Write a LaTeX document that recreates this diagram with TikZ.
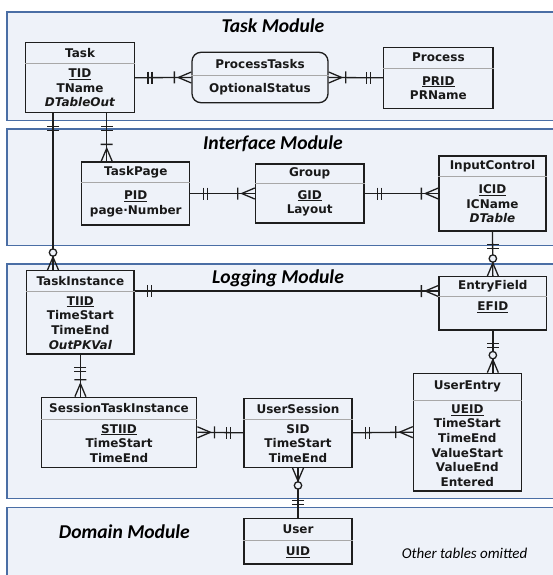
\documentclass[tikz,border=0pt]{standalone}
\usepackage{fontspec}
\setmainfont{DejaVu Sans}
\newfontfamily\ttlfont{Carlito}
\definecolor{modfill}{HTML}{EEF2F9}
\definecolor{modline}{HTML}{4A6EA5}
\definecolor{entline}{HTML}{1E1E1E}
\definecolor{sepgray}{HTML}{A8A8A8}
\pgfdeclarelayer{modlayer}
\pgfdeclarelayer{connlayer}
\pgfsetlayers{modlayer,connlayer,main}
\tikzset{
  module/.style={draw=modline, line width=1.4pt, fill=modfill},
  entity/.style={draw=entline, line width=1.3pt, fill=modfill, inner sep=0pt},
  sepline/.style={draw=sepgray, line width=0.9pt},
  hdr/.style={font=\fontsize{12}{14.6}\selectfont\bfseries, text=black!90, inner sep=0pt},
  attr/.style={font=\fontsize{12}{14.6}\selectfont\bfseries, text=black!90, align=center, inner sep=0pt},
  modtitle/.style={font=\ttlfont\fontsize{19.6}{22}\selectfont\bfseries\itshape, inner sep=0pt},
  note/.style={font=\ttlfont\fontsize{15}{18}\selectfont\itshape, inner sep=0pt},
  conn/.style={draw=entline, line width=1.3pt},
  oneone/.pic={\draw[conn] (13,-6)--(13,6) (17,-6)--(17,6);},
  onemany/.pic={\draw[conn] (0,-5.5)--(13,0)--(0,5.5) (17,-6)--(17,6);},
  zeromany/.pic={\draw[conn] (0,-5.5)--(13,0)--(0,5.5); \draw[conn,fill=modfill] (17.5,0) circle (3.7);},
}
% #1 extra style, #2 name, #3 x1, #4 y1, #5 x2, #6 y2, #7 sep, #8 header, #9 attrs
\newcommand\ent[9][]{%
  \node[entity,#1,minimum width={(#5-#3)*1pt},minimum height={(#6-#4)*1pt}] (#2) at ({(#3+#5)/2},{(#4+#6)/2}) {};
  \draw[sepline] (#2.west |- 0,#7) -- (#2.east |- 0,#7);
  \node[hdr] (#2-h) at ({(#3+#5)/2},{(#4+#7)/2}) {#8};
  \node[attr] (#2-a) at ({(#3+#5)/2},{(#7+#6)/2}) {#9};
}
\begin{document}
\begin{tikzpicture}[x=1pt,y=-1pt]
\useasboundingbox (0,0) rectangle (553,575);
\clip (0,0) rectangle (553,575);
% modules
\begin{pgfonlayer}{modlayer}
\path[module] (7,12) rectangle (570,120.5);
\path[module] (7,129) rectangle (570,245.7);
\path[module] (7,264) rectangle (570,498.3);
\path[module] (7,507.3) rectangle (570,600);
\end{pgfonlayer}
\node[modtitle] (tTask) at (273,26) {Task Module};
\node[modtitle] (tIface) at (273,143.3) {Interface Module};
\node[modtitle] (tLog) at (278,278) {Logging Module};
\node[modtitle] (tDom) at (124.4,531.7) {Domain Module};
\node[note] (omit) at (464.6,553.3) {Other tables omitted};
% anchor coordinates for off-centre connectors
\coordinate (xTI) at (53,0);
\coordinate (xTP) at (106.7,0);
\coordinate (yTE) at (0,291);
% entities
\ent{task}{25.7}{42.7}{134.4}{112.7}{63.3}{Task}{\underline{TID}\\TName\\\textit{DTableOut}}
\ent[rounded corners=9pt]{pt}{192}{52.3}{328}{102.7}{75}{ProcessTasks}{OptionalStatus}
\ent{process}{383.8}{47.3}{493}{108.3}{68}{Process}{\underline{PRID}\\PRName}
\ent{tp}{81.8}{162}{189.8}{225}{182.3}{TaskPage}{\underline{PID}\\page·Number}
\ent{grp}{255.4}{164}{364}{223}{183.3}{Group}{\underline{GID}\\Layout}
\ent{ic}{439}{156}{546}{231}{176.7}{InputControl}{\underline{ICID}\\ICName\\\textit{DTable}}
\ent{ti}{26.8}{270.7}{134}{354}{291.7}{TaskInstance}{\underline{TIID}\\TimeStart\\TimeEnd\\\textit{OutPKVal}}
\ent{ef}{439}{276.7}{546.7}{330}{296.7}{EntryField}{\underline{EFID}\\\mbox{}}
\ent{sti}{41.3}{397.3}{196.8}{467.3}{419.3}{SessionTaskInstance}{\underline{STIID}\\TimeStart\\TimeEnd}
\ent{us}{244}{398.3}{352}{467.3}{419.3}{UserSession}{SID\\TimeStart\\TimeEnd}
\ent{ue}{413.4}{373.3}{521.3}{491}{400}{UserEntry}{\underline{UEID}\\TimeStart\\TimeEnd\\ValueStart\\ValueEnd\\Entered}
\ent{user}{244}{518.3}{352}{564}{540}{User}{\underline{UID}}
% connectors
\begin{pgfonlayer}{connlayer}
\draw[conn] (task.east) -- (pt.west);
\pic[rotate=0] at (task.east) {oneone};
\pic[rotate=180] at (pt.west) {onemany};
\draw[conn] (pt.east) -- (process.west);
\pic[rotate=0] at (pt.east) {onemany};
\pic[rotate=180] at (process.west) {oneone};
\draw[conn] (task.south -| xTI) -- (ti.north -| xTI);
\pic[rotate=-90] at (task.south -| xTI) {oneone};
\pic[rotate=90] at (ti.north -| xTI) {zeromany};
\draw[conn] (task.south -| xTP) -- (tp.north -| xTP);
\pic[rotate=-90] at (task.south -| xTP) {oneone};
\pic[rotate=90] at (tp.north -| xTP) {onemany};
\draw[conn] (tp.east) -- (grp.west);
\pic[rotate=0] at (tp.east) {oneone};
\pic[rotate=180] at (grp.west) {onemany};
\draw[conn] (grp.east) -- (ic.west);
\pic[rotate=0] at (grp.east) {oneone};
\pic[rotate=180] at (ic.west) {onemany};
\draw[conn] (ic.south) -- (ef.north);
\pic[rotate=-90] at (ic.south) {oneone};
\pic[rotate=90] at (ef.north) {zeromany};
\draw[conn] (ti.east |- yTE) -- (ef.west |- yTE);
\pic[rotate=0] at (ti.east |- yTE) {oneone};
\pic[rotate=180] at (ef.west |- yTE) {onemany};
\draw[conn] (ti.south) -- (ti.south |- sti.north);
\pic[rotate=-90] at (ti.south) {oneone};
\pic[rotate=90] at (ti.south |- sti.north) {onemany};
\draw[conn] (sti.east) -- (us.west);
\pic[rotate=0] at (sti.east) {onemany};
\pic[rotate=180] at (us.west) {oneone};
\draw[conn] (us.east) -- (ue.west);
\pic[rotate=0] at (us.east) {oneone};
\pic[rotate=180] at (ue.west) {onemany};
\draw[conn] (ef.south) -- (ef.south |- ue.north);
\pic[rotate=-90] at (ef.south) {oneone};
\pic[rotate=90] at (ef.south |- ue.north) {zeromany};
\draw[conn] (us.south) -- (user.north);
\pic[rotate=-90] at (us.south) {zeromany};
\pic[rotate=90] at (user.north) {oneone};
\end{pgfonlayer}
\end{tikzpicture}
\end{document}
